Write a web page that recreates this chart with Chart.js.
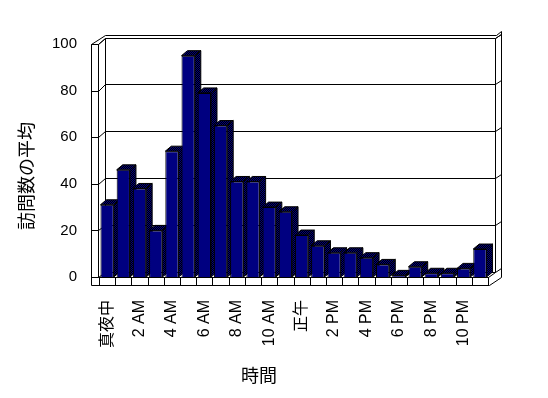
<!DOCTYPE html>
<html>
<head>
<meta charset="utf-8">
<script src="https://cdn.jsdelivr.net/npm/chart.js@4.4.1/dist/chart.umd.min.js"></script>
<style>
  html, body { margin: 0; padding: 0; background: #fff; }
  canvas { display: block; }
</style>
</head>
<body>
<canvas id="c" width="548" height="398"></canvas>
<script>
// hourly averages
const hours = ['真夜中','1 AM','2 AM','3 AM','4 AM','5 AM','6 AM','7 AM','8 AM','9 AM','10 AM','11 AM',
               '正午','1 PM','2 PM','3 PM','4 PM','5 PM','6 PM','7 PM','8 PM','9 PM','10 PM','11 PM'];
const xTickLabels = ['真夜中','','2 AM','','4 AM','','6 AM','','8 AM','','10 AM','',
                     '正午','','2 PM','','4 PM','','6 PM','','8 PM','','10 PM',''];
const visits = [31, 46, 38, 20, 54, 95, 79, 65, 41, 41, 30, 28,
                18, 13.4, 10.4, 10.4, 8.3, 5.4, 0.7, 4.4, 1.6, 1.6, 3.7, 12];
const yTicks = [0, 20, 40, 60, 80, 100];
const yTitle = '訪問数の平均';
const xTitle = '時間';

const NAVY = '#000080';
const FONT = '"Liberation Sans", "Noto Sans CJK JP", sans-serif';

// dithered navy/black for the bar sides
function ditherPattern(ctx){
  const c = document.createElement('canvas');
  c.width = 2; c.height = 2;
  const g = c.getContext('2d');
  g.fillStyle = '#000'; g.fillRect(0, 0, 2, 2);
  g.fillStyle = NAVY; g.fillRect(0, 0, 1, 1); g.fillRect(1, 1, 1, 1);
  return ctx.createPattern(c, 'repeat');
}

const px = n => Math.round(n) + 0.5;

function line(ctx, x1, y1, x2, y2){
  ctx.beginPath();
  ctx.moveTo(px(x1), px(y1));
  ctx.lineTo(px(x2), px(y2));
  ctx.stroke();
}

const box3d = {
  id: 'box3d',
  beforeDatasetsDraw(chart){
    const { ctx, chartArea: a, scales: { x, y } } = chart;
    const L = a.left, R = a.right, B = a.bottom;
    const front = v => y.getPixelForValue(v);
    const back = v => y.getPixelForValue(v) - 5 - v * 0.015;

    ctx.save();
    ctx.strokeStyle = '#000';
    ctx.lineWidth = 1;

    // left wall slab
    line(ctx, L - 8, front(100), L - 8, B + 8);
    line(ctx, L - 1, front(100), L - 1, B);
    line(ctx, L - 8, front(100), L - 1, front(100));
    line(ctx, L - 8, front(100), L + 6, back(100) - 3);
    line(ctx, L - 1, front(100), L + 6, back(100));

    // back wall edges
    line(ctx, L + 6, back(100) - 3, R + 8, back(100) - 3);
    line(ctx, R + 8, back(100) - 3, R + 13, back(100) - 7);
    line(ctx, L + 6, back(100), R + 7, back(100));
    line(ctx, R + 7, back(100), R + 13, back(100) - 4);
    line(ctx, L + 6, back(100), L + 6, back(0));
    line(ctx, R + 7, back(100), R + 7, back(0));
    line(ctx, R + 13, back(100) - 7, R + 13, B);

    // gridlines on walls
    yTicks.forEach(v => {
      line(ctx, L + 6, back(v), R + 7, back(v));
      line(ctx, L - 8, front(v), L - 1, front(v));
      line(ctx, L - 1, front(v), L + 6, back(v));
      line(ctx, R + 7, back(v), R + 13, back(v) - 4);
    });

    // floor
    line(ctx, L - 1, B, R, B);
    line(ctx, L - 8, B + 8, R + 1, B + 8);
    line(ctx, R, B, R, B + 8);
    line(ctx, R + 1, B + 8, R + 13, B);
    line(ctx, R, B, R + 7, back(0));
    const n = hours.length;
    for(let i = 0; i <= n; i++){
      const xb = L + i * (R - L) / n;
      line(ctx, xb, B, xb, B + 8);
    }

    // bar tops and sides
    const dx = 6, dy = 5;
    const pat = ditherPattern(ctx);
    chart.getDatasetMeta(0).data.forEach(bar => {
      const p = bar.getProps(['x', 'y', 'base', 'width'], true);
      const l = p.x - p.width / 2, r = p.x + p.width / 2;
      ctx.fillStyle = pat;
      ctx.beginPath();
      ctx.moveTo(r, p.y); ctx.lineTo(r + dx, p.y - dy);
      ctx.lineTo(r + dx, p.base - dy); ctx.lineTo(r, p.base);
      ctx.closePath(); ctx.fill(); ctx.stroke();
      ctx.beginPath();
      ctx.moveTo(l, p.y); ctx.lineTo(l + dx, p.y - dy);
      ctx.lineTo(r + dx, p.y - dy); ctx.lineTo(r, p.y);
      ctx.closePath(); ctx.fill(); ctx.stroke();
    });
    ctx.restore();
  },
  afterDraw(chart){
    const { ctx } = chart;
    ctx.save();
    ctx.fillStyle = '#000';
    ctx.font = '18px ' + FONT;
    ctx.textAlign = 'center';
    ctx.textBaseline = 'middle';
    ctx.fillText(xTitle, 259, 377);
    ctx.translate(28, 176);
    ctx.rotate(-Math.PI / 2);
    ctx.fillText(yTitle, 0, 0);
    ctx.restore();
  }
};

Chart.defaults.color = '#000';
Chart.defaults.font.family = FONT;
Chart.defaults.font.size = 15;

new Chart(document.getElementById('c'), {
  type: 'bar',
  data: {
    labels: hours,
    datasets: [{
      data: visits,
      backgroundColor: NAVY,
      borderColor: '#000',
      borderWidth: 1,
      barPercentage: 0.82,
      categoryPercentage: 1
    }]
  },
  options: {
    responsive: false,
    animation: false,
    devicePixelRatio: 1,
    layout: { padding: { top: 44, right: 60, bottom: 0, left: 0 } },
    plugins: { legend: { display: false }, tooltip: { enabled: false } },
    scales: {
      x: {
        grid: { display: false, drawTicks: false },
        border: { display: false },
        ticks: {
          autoSkip: false,
          minRotation: 90,
          maxRotation: 90,
          padding: 23,
          font: { size: 16 },
          callback: (v, i) => xTickLabels[i]
        },
        afterFit(s){ s.height = 121; }
      },
      y: {
        min: 0,
        max: 100,
        grid: { display: false, drawTicks: false },
        border: { display: false },
        ticks: { stepSize: 20, padding: 22 },
        afterFit(s){ s.width = 99; }
      }
    }
  },
  plugins: [box3d]
});
</script>
</body>
</html>
